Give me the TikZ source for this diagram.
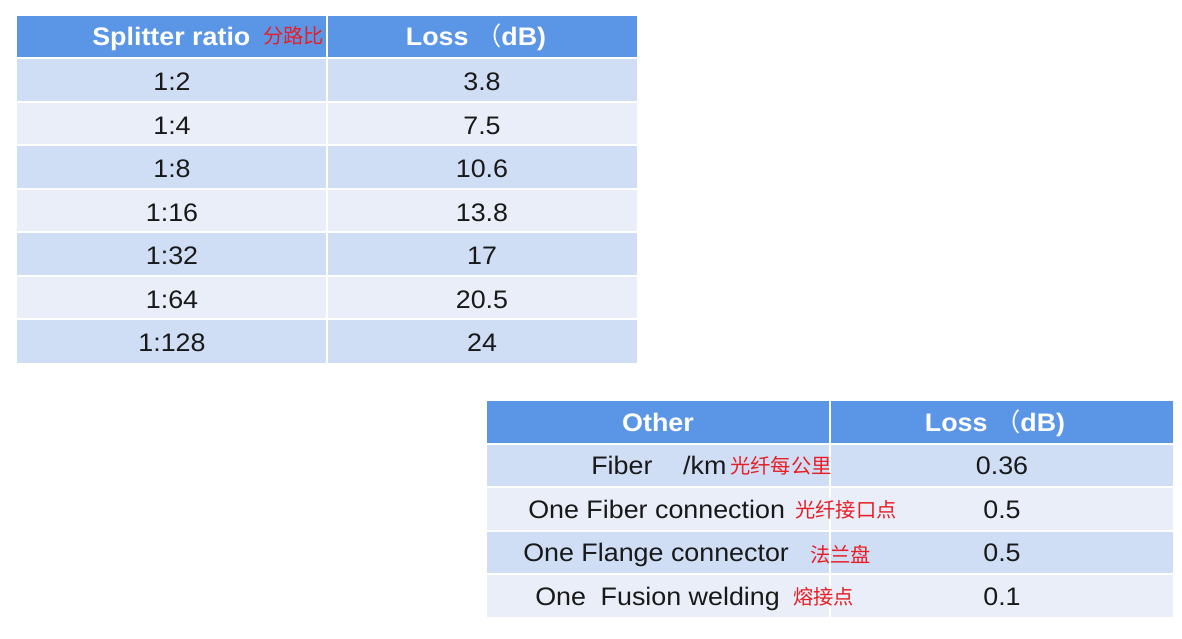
\documentclass[tikz,border=0pt]{standalone}
\usepackage{fontspec}
\setmainfont[FakeStretch=1.06]{Liberation Sans}
\newfontfamily\cjk{Noto Sans CJK SC}
\definecolor{hdr}{RGB}{91,150,230}
\definecolor{rowA}{RGB}{208,222,245}
\definecolor{rowB}{RGB}{233,238,249}
\definecolor{cnred}{RGB}{232,30,36}
\definecolor{txt}{RGB}{25,25,25}
\tikzset{
  hd/.style={text=white,font=\fontsize{19}{21}\selectfont\bfseries,inner sep=0pt},
  bd/.style={text=txt,font=\fontsize{19}{21}\selectfont,inner sep=0pt},
  cn/.style={text=cnred,font=\fontsize{15.2}{17}\cjk,inner sep=0pt},
  sep/.style={white,line width=1.5pt}
}
\begin{document}
\begin{tikzpicture}[x=0.75pt,y=-0.75pt]
\useasboundingbox (0,0) rectangle (1182,639);
\fill[white] (0,0) rectangle (1182,639);
% ---------- table 1 ----------
\fill[hdr] (17,16) rectangle (637,58);
\foreach \i in {0,...,6}{
  \pgfmathsetmacro{\ya}{58+\i*43.57}
  \pgfmathsetmacro{\yb}{58+(\i+1)*43.57}
  \pgfmathparse{int(mod(\i,2))}
  \ifnum\pgfmathresult=0 \fill[rowA] (17,\ya) rectangle (637,\yb);
  \else \fill[rowB] (17,\ya) rectangle (637,\yb); \fi
}
\foreach \i in {0,...,6}{
  \draw[sep] (17,{58+\i*43.57}) -- (637,{58+\i*43.57});
}
\draw[sep] (327,16) -- (327,363);
\node[hd,anchor=base west] (h1a) at (92,45) {Splitter ratio};
\node[cn,anchor=base west] (h1c) at (263,43) {分路比};
\node[hd,anchor=base] (h1b) at (476,45) {Loss {\cjk\mdseries （}dB)};
\foreach \r/\b [count=\k from 0] in {1:2/3.8,1:4/7.5,1:8/10.6,1:16/13.8,1:32/17,1:64/20.5,1:128/24}{
  \node[bd,anchor=base] (ra\k) at (172,{90.5+\k*43.57}) {\r};
  \node[bd,anchor=base] (rb\k) at (482,{90.5+\k*43.57}) {\b};
}
% ---------- table 2 ----------
\fill[hdr] (487,401) rectangle (1173,444);
\foreach \i in {0,...,3}{
  \pgfmathsetmacro{\ya}{444+\i*43.25}
  \pgfmathsetmacro{\yb}{444+(\i+1)*43.25}
  \pgfmathparse{int(mod(\i,2))}
  \ifnum\pgfmathresult=0 \fill[rowA] (487,\ya) rectangle (1173,\yb);
  \else \fill[rowB] (487,\ya) rectangle (1173,\yb); \fi
}
\foreach \i in {0,...,3}{
  \draw[sep] (487,{444+\i*43.25}) -- (1173,{444+\i*43.25});
}
\draw[sep] (830,401) -- (830,617);
\node[hd,anchor=base] (h2a) at (658,431) {Other};
\node[hd,anchor=base] (h2b) at (995,431) {Loss {\cjk\mdseries （}dB)};
\node[bd,anchor=base west] (o1) at (591,474.5) {Fiber\hspace{23pt}/km};
\node[cn,anchor=base west] (c1) at (730,473) {光纤每公里};
\node[bd,anchor=base west] (o2) at (528,518) {One Fiber connection};
\node[cn,anchor=base west] (c2) at (795,517) {光纤接口点};
\node[bd,anchor=base west] (o3) at (523,561.5) {One Flange connector};
\node[cn,anchor=base west] (c3) at (810,562) {法兰盘};
\node[bd,anchor=base west] (o4) at (535,605) {One\hspace{11pt}Fusion welding};
\node[cn,anchor=base west] (c4) at (793,604) {熔接点};
\node[bd,anchor=base] (v1) at (1002,474) {0.36};
\node[bd,anchor=base] (v2) at (1002,518) {0.5};
\node[bd,anchor=base] (v3) at (1002,561.5) {0.5};
\node[bd,anchor=base] (v4) at (1002,605) {0.1};
\end{tikzpicture}
\end{document}
